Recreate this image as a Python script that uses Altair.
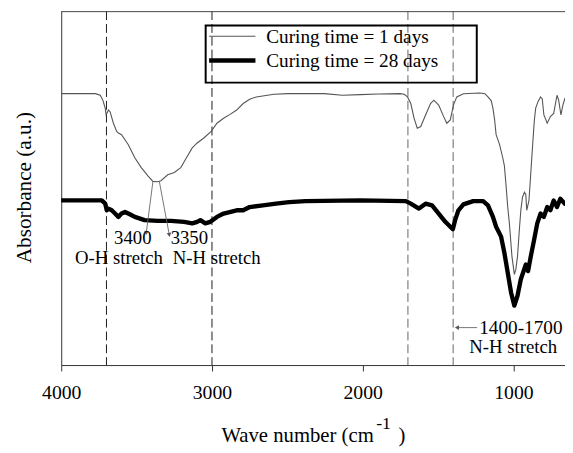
import altair as alt
import pandas as pd

FONT = "Liberation Serif"

# ---- spectra (wave number in cm-1, absorbance in a.u.) ----
wn_1d = [4000, 3774, 3741, 3724, 3708, 3702, 3687, 3676, 3654, 3632,
         3621, 3600, 3556, 3512, 3469, 3425, 3392, 3360, 3338, 3294,
         3250, 3207, 3175, 3131, 3098, 3054, 3005, 2967, 2923, 2880,
         2836, 2793, 2750, 2706, 2589, 2494, 2254, 2135, 2016, 1896,
         1753, 1725, 1703, 1681, 1659, 1638, 1615, 1583, 1550, 1528,
         1496, 1463, 1442, 1419, 1398, 1376, 1332, 1223, 1190, 1169,
         1147, 1136, 1125, 1115, 1092, 1071, 1060, 1049, 1038, 1027,
         1010, 994, 984, 973, 961, 951, 940, 927, 918, 912,
         897, 884, 871, 861, 852, 835, 820, 809, 798, 776,
         755, 733, 711, 700, 685, 672, 659, 650]
abs_1d = [2.753, 2.753, 2.737, 2.687, 2.603, 2.537, 2.587, 2.57, 2.453, 2.37,
          2.353, 2.337, 2.237, 2.103, 2.003, 1.92, 1.863, 1.86, 1.87, 1.93,
          1.953, 2.003, 2.087, 2.203, 2.253, 2.303, 2.37, 2.453, 2.503, 2.543,
          2.587, 2.653, 2.697, 2.72, 2.747, 2.753, 2.753, 2.737, 2.743, 2.75,
          2.753, 2.747, 2.72, 2.653, 2.503, 2.403, 2.42, 2.537, 2.653, 2.687,
          2.637, 2.52, 2.453, 2.487, 2.637, 2.72, 2.753, 2.76, 2.753, 2.72,
          2.68, 2.603, 2.49, 2.337, 2.237, 2.103, 2.02, 1.82, 1.603, 1.437,
          1.103, 0.92, 0.97, 1.103, 1.37, 1.57, 1.703, 1.753, 1.73, 1.57,
          1.67, 1.97, 2.27, 2.49, 2.61, 2.68, 2.72, 2.70, 2.537, 2.453,
          2.52, 2.553, 2.737, 2.687, 2.537, 2.637, 2.703, 2.72]

wn_28d = [4000, 3731, 3708, 3698, 3687, 3665, 3643, 3621, 3600, 3577,
          3545, 3512, 3447, 3360, 3273, 3185, 3131, 3098, 3077, 3044,
          3011, 2967, 2923, 2836, 2793, 2750, 2662, 2575, 2488, 2379,
          2016, 1714, 1681, 1627, 1583, 1540, 1496, 1452, 1419, 1402,
          1387, 1365, 1332, 1267, 1201, 1169, 1136, 1115, 1082, 1060,
          1038, 1016, 994, 973, 951, 929, 918, 903, 885, 863,
          842, 820, 798, 776, 755, 733, 711, 689, 659, 650]
abs_28d = [1.67, 1.67, 1.637, 1.57, 1.587, 1.57, 1.537, 1.503, 1.537, 1.553,
           1.53, 1.503, 1.47, 1.463, 1.463, 1.453, 1.437, 1.453, 1.47, 1.437,
           1.453, 1.503, 1.537, 1.57, 1.57, 1.603, 1.62, 1.637, 1.653, 1.663,
           1.67, 1.663, 1.637, 1.587, 1.637, 1.62, 1.537, 1.453, 1.403, 1.377,
           1.47, 1.57, 1.63, 1.663, 1.663, 1.62, 1.503, 1.403, 1.303, 1.137,
           0.937, 0.737, 0.603, 0.703, 0.87, 0.97, 1.02, 0.953, 1.103, 1.27,
           1.437, 1.537, 1.503, 1.603, 1.57, 1.67, 1.603, 1.687, 1.637, 1.65]

series_names = ["Curing time = 1 days", "Curing time = 28 days"]

# dashed reference lines
dash_wn = [3700, 3000, 1700, 1400]
dash_shade = ["#1a1a1a", "#1a1a1a", "#666666", "#666666"]

tick_values = [4000, 3000, 2000, 1000]

# annotations
ann_text = ["3400", "3350", "O-H stretch", "N-H stretch", "N-H stretch"]
ann_wn = [3525, 3150, 3617, 2969, 1002]
ann_abs = [1.29, 1.29, 1.09, 1.09, 0.187]

range_text = ["1400-1700"]
range_wn = [1227]
range_abs = [0.38]

arrow_wn_from = [3392, 3349, 1241]
arrow_abs_from = [1.86, 1.86, 0.38]
arrow_wn_to = [3436, 3283, 1375]
arrow_abs_to = [1.34, 1.32, 0.38]
arrow_angle = [7, 350, 0]
arrow_shape = ["triangle-down", "triangle-down", "triangle-left"]

W, H = 511, 359

X_SCALE = alt.Scale(domain=[4000, 658], nice=False, zero=False)
Y_SCALE = alt.Scale(domain=[0, 3.59], nice=False, zero=False)

x_axis = alt.Axis(values=tick_values, format="d", title=None, grid=False,
                  tickSize=6, labelPadding=12, labelFontSize=20, labelColor="black",
                  labelFont=FONT, labelFlush=False, domainColor="#333", tickColor="#333",
                  labelOverlap=False)
y_axis = alt.Axis(labels=False, ticks=False, title=None, grid=False, domainColor="#333")


def X(f):
    return alt.X(f, type="quantitative", scale=X_SCALE, axis=x_axis)


def Y(f):
    return alt.Y(f, type="quantitative", scale=Y_SCALE, axis=y_axis)


df1 = pd.DataFrame({"wn": wn_1d, "a": abs_1d, "i": range(len(wn_1d))})
df28 = pd.DataFrame({"wn": wn_28d, "a": abs_28d, "i": range(len(wn_28d))})
dash_df = pd.DataFrame({"wn": dash_wn, "shade": dash_shade})
ann_df = pd.DataFrame({"wn": ann_wn, "a": ann_abs, "t": ann_text})
range_df = pd.DataFrame({"wn": range_wn, "a": range_abs, "t": range_text})
arrow_df = pd.DataFrame({"wn": arrow_wn_from, "a": arrow_abs_from,
                         "wn2": arrow_wn_to, "a2": arrow_abs_to,
                         "ang": arrow_angle, "shp": arrow_shape})
one = pd.DataFrame({"k": [0]})

dashed = alt.Chart(dash_df).mark_rule(strokeDash=[9, 4], strokeWidth=1).encode(
    x=X("wn"), color=alt.Color("shade:N", scale=None))

thin = alt.Chart(df1).mark_line(color="#555555", strokeWidth=1.1, clip=True).encode(
    x=X("wn"), y=Y("a"), order="i:Q")

thick = alt.Chart(df28).mark_line(color="black", strokeWidth=4.4, clip=True,
                                   strokeJoin="round", strokeCap="round").encode(
    x=X("wn"), y=Y("a"), order="i:Q")

arrows = alt.Chart(arrow_df).mark_rule(color="#666666", strokeWidth=0.9).encode(
    x=X("wn"), y=Y("a"), x2=alt.X2("wn2"), y2=alt.Y2("a2"))

heads = alt.Chart(arrow_df).mark_point(filled=True, size=22, color="#555555", opacity=1).encode(
    x=X("wn2"), y=Y("a2"), angle=alt.Angle("ang:Q", scale=None),
    shape=alt.Shape("shp:N", scale=None))

ann = alt.Chart(ann_df).mark_text(font=FONT, fontSize=19, color="black",
                                  align="center", baseline="middle").encode(
    x=X("wn"), y=Y("a"), text="t:N")

rng = alt.Chart(range_df).mark_text(font=FONT, fontSize=19.5, color="black",
                                    align="left", baseline="middle").encode(
    x=X("wn"), y=Y("a"), text="t:N")

top_border = alt.Chart(one).mark_rule(color="#444444", strokeWidth=1).encode(
    x=alt.value(0), x2=alt.value(W), y=alt.value(0.5))

# legend (drawn by hand to match the boxed original)
leg_box = alt.Chart(one).mark_rect(fillOpacity=0, stroke="black", strokeWidth=2).encode(
    x=alt.value(146.5), x2=alt.value(421.5), y=alt.value(14.5), y2=alt.value(72.5))
leg_layers = []
leg_y = [25.5, 50]
leg_w = [1.1, 4.5]
leg_c = ["#555555", "black"]
for name, yy, sw, cc in zip(series_names, leg_y, leg_w, leg_c):
    leg_layers.append(alt.Chart(one).mark_rule(color=cc, strokeWidth=sw).encode(
        x=alt.value(150), x2=alt.value(197), y=alt.value(yy)))
    leg_layers.append(alt.Chart(pd.DataFrame({"t": [name]})).mark_text(
        font=FONT, fontSize=19.5, color="black", align="left", baseline="middle").encode(
        x=alt.value(208), y=alt.value(yy + 1), text="t:N"))

# axis titles
ytitle = alt.Chart(pd.DataFrame({"t": ["Absorbance (a.u.)"]})).mark_text(
    font=FONT, fontSize=21.5, color="black", angle=270, align="center", baseline="middle").encode(
    x=alt.value(-37), y=alt.value(179), text="t:N")
xt_main = alt.Chart(pd.DataFrame({"t": ["Wave number (cm"]})).mark_text(
    font=FONT, fontSize=21, color="black", align="right", baseline="alphabetic").encode(
    x=alt.value(317), y=alt.value(437), text="t:N")
xt_sup = alt.Chart(pd.DataFrame({"t": ["-1"]})).mark_text(
    font=FONT, fontSize=18, color="black", align="left", baseline="alphabetic").encode(
    x=alt.value(319.5), y=alt.value(424), text="t:N")
xt_close = alt.Chart(pd.DataFrame({"t": [")"]})).mark_text(
    font=FONT, fontSize=21, color="black", align="left", baseline="alphabetic").encode(
    x=alt.value(342), y=alt.value(437), text="t:N")

chart = alt.layer(
    dashed, thin, thick, arrows, heads, ann, rng, top_border, leg_box, *leg_layers,
    ytitle, xt_main, xt_sup, xt_close
).properties(
    width=W, height=H,
    padding={"left": 54, "top": 0, "right": 0, "bottom": 86},
    autosize=alt.AutoSizeParams(type="none"),
).configure(font=FONT).configure_view(stroke=None)

chart.save("out.html", embed_options={"renderer": "svg", "actions": False})
